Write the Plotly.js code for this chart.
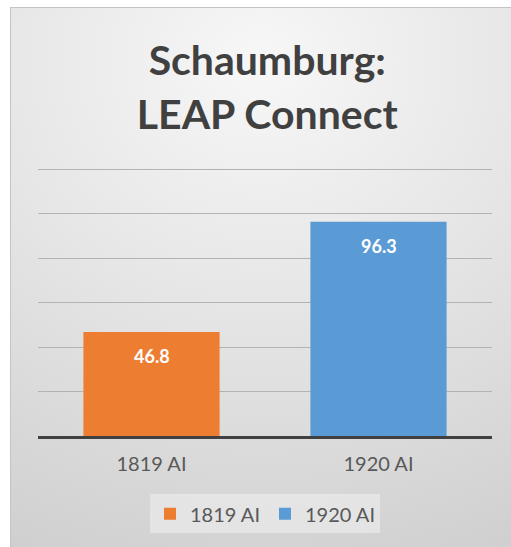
<!DOCTYPE html>
<html>
<head>
<meta charset="utf-8">
<script src="https://cdn.plot.ly/plotly-3.0.1.min.js"></script>
<style>
  html, body { margin: 0; padding: 0; background: #ffffff; }
  #frame {
    position: absolute; left: 10px; top: 7px; width: 501px; height: 540px;
    box-sizing: border-box; border-left: 1px solid #c4c4c4; border-top: 1px solid #c4c4c4;
    background: radial-gradient(ellipse 120% 100% at 50% 10%, #f7f7f7 0%, #e6e6e6 45%, #cfcfcf 100%);
  }
  #chart { position: absolute; left: 0; top: 0; width: 511px; height: 547px; }
</style>
</head>
<body>
<div id="frame"></div>
<div id="chart"></div>
<script>
const categories = ["1819 AI", "1920 AI"];
const values = [46.8, 96.3];
const colors = ["#ED7D31", "#5B9BD5"];
const titleText = "Schaumburg:<br>LEAP Connect";

const traces = categories.map((c, i) => ({
  type: "bar",
  name: c,
  x: [c],
  y: [values[i]],
  marker: { color: colors[i] },
  hoverinfo: "x+y"
}));

const annotations = categories.map((c, i) => ({
  x: c, y: values[i], xref: "x", yref: "y",
  text: values[i].toFixed(1), showarrow: false,
  yanchor: "middle", yshift: -24,
  font: { family: "Lato, 'Open Sans', sans-serif", size: 18, color: "#ffffff", weight: "bold" }
}));

const layout = {
  width: 511, height: 547,
  paper_bgcolor: "rgba(0,0,0,0)",
  plot_bgcolor: "rgba(0,0,0,0)",
  margin: { l: 38, r: 19, t: 168, b: 111 },
  title: {
    text: titleText,
    font: { family: "Lato, 'Open Sans', sans-serif", size: 41, color: "#404040", weight: "bold" },
    x: 0.523, xanchor: "center", y: 0.862, yanchor: "middle"
  },
  barmode: "overlay",
  bargap: 0.4,
  showlegend: true,
  legend: {
    orientation: "h", x: 0.5, xanchor: "center", y: -0.29, yanchor: "middle",
    bgcolor: "rgba(240,240,240,0.55)",
    font: { family: "Lato, 'Open Sans', sans-serif", size: 20, color: "#595959" },
    itemwidth: 30, traceorder: "normal"
  },
  xaxis: {
    type: "category",
    categoryarray: categories,
    showgrid: false,
    showline: true, linecolor: "#404040", linewidth: 3,
    ticks: "", ticklabelstandoff: 8,
    tickfont: { family: "Lato, 'Open Sans', sans-serif", size: 20, color: "#595959" },
    fixedrange: true
  },
  yaxis: {
    range: [0, 120.5], dtick: 20,
    showticklabels: false, ticks: "",
    showgrid: true, gridcolor: "#b3b3b3", gridwidth: 1,
    zeroline: false, showline: false,
    fixedrange: true
  },
  annotations: annotations
};

Plotly.newPlot("chart", traces, layout, { displayModeBar: false, staticPlot: true });
</script>
</body>
</html>
